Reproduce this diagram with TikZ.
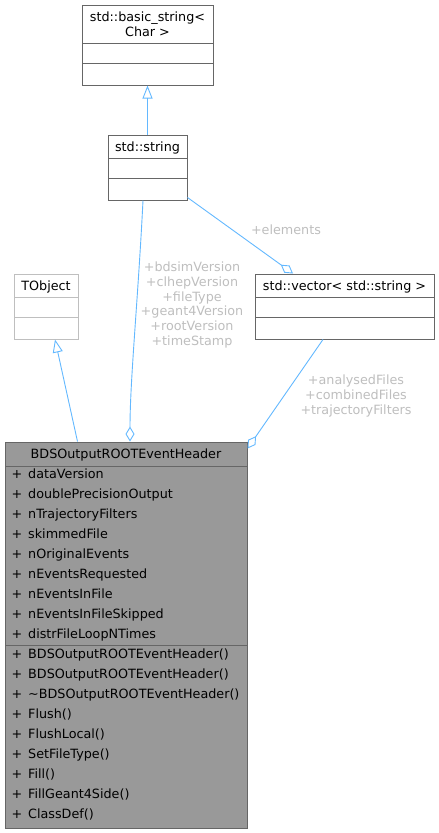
\documentclass[tikz,border=0pt]{standalone}
\usepackage{fontspec}
\setmainfont{DejaVu Sans}
\usetikzlibrary{arrows.meta}
\definecolor{edgeblue}{HTML}{63B8FF}
\definecolor{boxline}{HTML}{666666}
\definecolor{extline}{HTML}{BFBFBF}
\definecolor{mainfill}{HTML}{999999}
\definecolor{labelgray}{HTML}{BEBEBE}

\begin{document}
\begin{tikzpicture}[x=1pt,y=-1pt,
  font=\fontsize{12.75}{14.7}\selectfont,
  classbox/.style={draw=boxline,line width=1pt,inner sep=0pt,fill=white},
  title/.style={anchor=base,inner sep=0pt},
  member/.style={anchor=base west,inner sep=0pt},
  edgelabel/.style={text=labelgray,align=center,inner sep=0pt},
  link/.style={draw=edgeblue,line width=0.9pt},
  inherit/.style={link,-{Triangle[open,length=13pt,width=10pt]}},
  aggr/.style={link,-{Diamond[open,length=15pt,width=9pt]}}]
\useasboundingbox (0,0) rectangle (439,833);

\node[classbox,minimum width=131pt,minimum height=80pt] (bstr) at (147.5,45) {};
\draw[boxline,line width=1pt] (82,43) -- (213,43) (82,63) -- (213,63);
\node[title] (bstrname) at (147.5,21) {std::basic\_string<};
\node[title] (bstrarg) at (147.5,36) {Char >};

\node[classbox,minimum width=79pt,minimum height=65pt] (str) at (147.5,167.5) {};
\draw[boxline,line width=1pt] (108,158) -- (187,158) (108,178) -- (187,178);
\node[title] (strname) at (147.5,151) {std::string};

\node[classbox,draw=extline,minimum width=64pt,minimum height=65pt] (tobj) at (46,306.5) {};
\draw[extline,line width=1pt] (14,297) -- (78,297) (14,317) -- (78,317);
\node[title] (tobjname) at (46,290.5) {TObject};

\node[classbox,minimum width=179pt,minimum height=65pt] (vec) at (344.5,306.5) {};
\draw[boxline,line width=1pt] (255,297) -- (434,297) (255,317) -- (434,317);
\node[title] (vecname) at (344.5,290.5) {std::vector< std::string >};

\node[classbox,fill=mainfill,minimum width=242pt,minimum height=386pt] (main) at (126,635) {};
\draw[boxline,line width=1pt] (5,466) -- (247,466) (5,645) -- (247,645);
\node[title] (mainname) at (126,458.5) {BDSOutputROOTEventHeader};
\foreach \m [count=\i from 0] in {dataVersion,doublePrecisionOutput,nTrajectoryFilters,
  skimmedFile,nOriginalEvents,nEventsRequested,nEventsInFile,nEventsInFileSkipped,
  distrFileLoopNTimes}
  \node[member] (attr\i) at (11.5,478.5+20*\i) {\makebox[16.5pt][l]{+}\m};
\foreach \m [count=\i from 0] in {BDSOutputROOTEventHeader(),BDSOutputROOTEventHeader(),
  \textasciitilde BDSOutputROOTEventHeader(),Flush(),FlushLocal(),SetFileType(),
  Fill(),FillGeant4Side(),ClassDef()}
  \node[member] (meth\i) at (11.5,658.5+20*\i) {\makebox[16.5pt][l]{+}\m};

\draw[inherit] (str.north) -- (bstr.south);
\draw[inherit] ([xshift=73pt]main.north west) -- ([xshift=9pt]tobj.south);
\draw[aggr] ([xshift=-4.5pt]str.south) .. controls (138,300) and (130,380) .. ([xshift=4pt]main.north);
\draw[aggr] ([yshift=3pt]str.south east) -- ([xshift=-51.5pt]vec.north);
\draw[aggr] ([xshift=-21.5pt]vec.south) -- ([yshift=-7pt]main.north east);

\node[edgelabel] (elemlabel) at (286,230) {+elements};
\node[edgelabel] (versionlabel) at (192,305) {+bdsimVersion\\+clhepVersion\\+fileType\\+geant4Version\\+rootVersion\\+timeStamp};
\node[edgelabel] (fileslabel) at (356,396) {+analysedFiles\\+combinedFiles\\+trajectoryFilters};
\end{tikzpicture}
\end{document}
